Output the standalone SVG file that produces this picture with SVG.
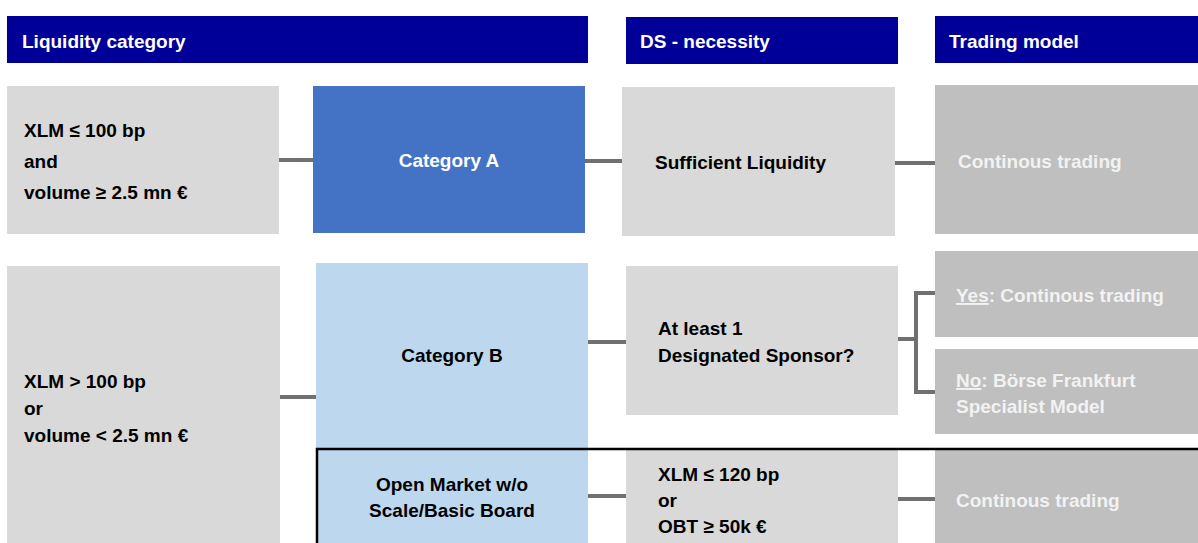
<svg xmlns="http://www.w3.org/2000/svg" width="1198" height="543" viewBox="0 0 1198 543">
<style>
.t{font-family:"Liberation Sans",Arial,sans-serif;font-weight:bold;font-size:19px}
.w{fill:#ffffff}
.lw{fill:#f2f2f2}
.k{fill:#000000}
.hdr{fill:#000099}
.g1{fill:#d9d9d9}
.g2{fill:#bfbfbf}
.ba{fill:#4472c4}
.bb{fill:#bdd7ee}
.c{stroke:#707070;stroke-width:4;fill:none}
</style>
<rect width="1198" height="543" fill="#ffffff"/>
<g id="header-liquidity"><rect class="hdr" x="7" y="16" width="581" height="47"/><text class="t w" x="22" y="48">Liquidity category</text></g>
<g id="header-ds"><rect class="hdr" x="626" y="17" width="272" height="47"/><text class="t w" x="640" y="48">DS - necessity</text></g>
<g id="header-trading"><rect class="hdr" x="935" y="16" width="263" height="47"/><text class="t w" x="949" y="48">Trading model</text></g>

<g id="connectors">
<path class="c" d="M279,160H313"/>
<path class="c" d="M585,161H622"/>
<path class="c" d="M895,163H935"/>
<path class="c" d="M280,397H316"/>
<path class="c" d="M588,342H626"/>
<path class="c" d="M898,339H916"/>
<path class="c" d="M935,293H916V392H935"/>
<path class="c" d="M588,496H626"/>
<path class="c" d="M898,499H935"/>
</g>

<g id="cond-a"><rect class="g1" x="7" y="86" width="272" height="148"/>
<text class="t k" x="24" y="137">XLM ≤ 100 bp</text>
<text class="t k" x="24" y="168">and</text>
<text class="t k" x="24" y="199">volume ≥ 2.5 mn €</text></g>
<g id="category-a"><rect class="ba" x="313" y="86" width="272" height="147"/><text class="t w" x="449" y="167" text-anchor="middle">Category A</text></g>
<g id="sufficient"><rect class="g1" x="622" y="87" width="273" height="149"/><text class="t k" x="655" y="169">Sufficient Liquidity</text></g>
<g id="continuous-a"><rect class="g2" x="935" y="85" width="263" height="149"/><text class="t lw" x="958" y="168">Continous trading</text></g>

<g id="cond-b"><rect class="g1" x="7" y="266" width="273" height="277"/>
<text class="t k" x="24" y="388">XLM &gt; 100 bp</text>
<text class="t k" x="24" y="415">or</text>
<text class="t k" x="24" y="442">volume &lt; 2.5 mn €</text></g>
<g id="category-b"><rect class="bb" x="316" y="263" width="272" height="280"/><text class="t k" x="452" y="362" text-anchor="middle">Category B</text></g>
<g id="ds-question"><rect class="g1" x="626" y="266" width="272" height="149"/>
<text class="t k" x="658" y="335">At least 1</text>
<text class="t k" x="658" y="362">Designated Sponsor?</text></g>
<g id="yes"><rect class="g2" x="935" y="251" width="263" height="86"/><text class="t lw" x="956" y="302"><tspan text-decoration="underline">Yes</tspan>: Continous trading</text></g>
<g id="no"><rect class="g2" x="935" y="349" width="263" height="85"/>
<text class="t lw" x="956" y="387"><tspan text-decoration="underline">No</tspan>: Börse Frankfurt</text>
<text class="t lw" x="956" y="413">Specialist Model</text></g>

<g id="open-market"><text class="t k" x="452" y="491" text-anchor="middle">Open Market w/o</text><text class="t k" x="452" y="517" text-anchor="middle">Scale/Basic Board</text></g>
<g id="cond-c"><rect class="g1" x="626" y="450" width="272" height="93"/>
<text class="t k" x="658" y="481">XLM ≤ 120 bp</text>
<text class="t k" x="658" y="507">or</text>
<text class="t k" x="658" y="533">OBT ≥ 50k €</text></g>
<g id="continuous-c"><rect class="g2" x="935" y="450" width="263" height="93"/><text class="t lw" x="956" y="507">Continous trading</text></g>
<g id="open-market-frame"><rect x="317" y="449" width="900" height="120" fill="none" stroke="#000000" stroke-width="2.5"/></g>
</svg>
